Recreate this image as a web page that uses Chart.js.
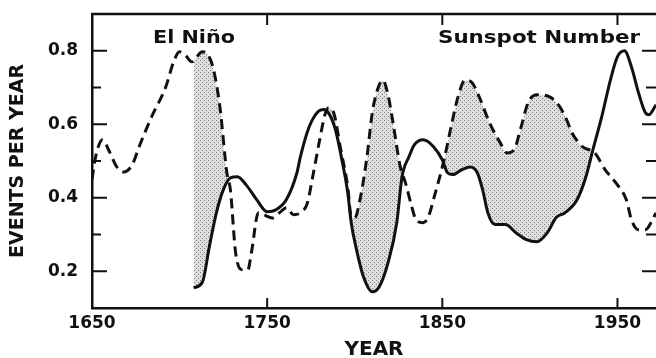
<!DOCTYPE html>
<html>
<head>
<meta charset="utf-8">
<script src="https://cdn.jsdelivr.net/npm/chart.js@4"></script>
<style>
  html, body { margin: 0; padding: 0; background: #fff; overflow: hidden; }
  #wrap { width: 656px; height: 358px; position: relative; }
</style>
</head>
<body>
<div id="wrap"><canvas id="ensoChart"></canvas></div>
<script>
// El Niño events per year (dashed curve)
const ninoYears = [1650, 1652, 1656, 1660, 1664, 1668, 1673, 1677, 1684, 1692, 1697, 1700, 1703, 1707, 1710, 1713, 1716, 1719, 1723, 1727, 1729, 1732, 1736, 1739, 1741, 1745, 1748, 1753, 1757, 1761, 1765, 1769, 1773, 1776, 1780, 1783, 1785, 1788, 1792, 1796, 1798, 1800, 1803, 1807, 1810, 1813, 1816, 1819, 1822, 1826, 1829, 1832, 1835, 1839, 1842, 1846, 1851, 1855, 1859, 1863, 1867, 1871, 1877, 1883, 1887, 1891, 1895, 1899, 1904, 1911, 1917, 1921, 1924, 1930, 1937, 1943, 1949, 1955, 1958, 1962, 1966, 1970, 1972];
const ninoEvents = [0.45, 0.51, 0.558, 0.525, 0.485, 0.47, 0.49, 0.54, 0.62, 0.70, 0.775, 0.797, 0.79, 0.77, 0.785, 0.797, 0.79, 0.756, 0.648, 0.468, 0.422, 0.25, 0.204, 0.204, 0.25, 0.359, 0.354, 0.345, 0.359, 0.373, 0.354, 0.359, 0.386, 0.457, 0.558, 0.626, 0.645, 0.631, 0.531, 0.43, 0.348, 0.345, 0.395, 0.512, 0.631, 0.694, 0.72, 0.68, 0.60, 0.484, 0.44, 0.386, 0.34, 0.332, 0.348, 0.413, 0.503, 0.593, 0.675, 0.72, 0.713, 0.675, 0.604, 0.55, 0.522, 0.531, 0.593, 0.659, 0.68, 0.675, 0.648, 0.612, 0.577, 0.539, 0.522, 0.476, 0.441, 0.395, 0.34, 0.313, 0.313, 0.34, 0.359];

// Sunspot number, scaled to the same axis (solid curve)
const sunYears = [1708, 1713, 1717, 1721, 1725, 1729, 1733, 1738, 1744, 1750, 1755, 1761, 1767, 1769, 1774, 1779, 1782, 1785, 1789, 1793, 1796, 1798, 1801, 1805, 1810, 1814, 1819, 1824, 1827, 1831, 1834, 1839, 1845, 1850, 1853, 1856, 1861, 1866, 1870, 1873, 1876, 1880, 1886, 1892, 1898, 1904, 1910, 1915, 1920, 1927, 1932, 1936, 1941, 1946, 1950, 1954, 1958, 1962, 1966, 1968, 1972];
const sunValues = [0.155, 0.17, 0.267, 0.359, 0.422, 0.454, 0.457, 0.435, 0.395, 0.362, 0.367, 0.395, 0.468, 0.512, 0.593, 0.634, 0.64, 0.631, 0.585, 0.495, 0.414, 0.332, 0.259, 0.185, 0.144, 0.158, 0.223, 0.332, 0.457, 0.512, 0.544, 0.558, 0.539, 0.503, 0.468, 0.463, 0.476, 0.484, 0.468, 0.422, 0.359, 0.327, 0.327, 0.305, 0.286, 0.28, 0.305, 0.346, 0.359, 0.395, 0.457, 0.531, 0.62, 0.721, 0.784, 0.80, 0.756, 0.686, 0.631, 0.626, 0.653];

// axis ticks
const yearTicks = [1650, 1750, 1850, 1950];
const eventTicks = [0.2, 0.3, 0.4, 0.5, 0.6, 0.7, 0.8];
const eventLabels = [0.2, 0.4, 0.6, 0.8];

const ink = '#111';
Chart.defaults.font.family = '"DejaVu Sans", sans-serif';
Chart.defaults.color = ink;

// stippled grey used between the curves
function makeStipple() {
    const c = document.createElement('canvas');
    c.width = 4;
    c.height = 4;
    const g = c.getContext('2d');
    g.fillStyle = '#dedede';
    g.fillRect(0, 0, 4, 4);
    g.fillStyle = '#808080';
    g.fillRect(0, 0, 1, 1);
    g.fillRect(2, 2, 1, 1);
    return g.createPattern(c, 'repeat');
}

const toPoints = (xs, ys) => xs.map((x, i) => ({x: x, y: ys[i]}));

// frame, inward ticks and the two curve names
const framePlugin = {
    id: 'frame',
    afterDraw(chart) {
        const {ctx, chartArea: a, scales: {x, y}} = chart;
        ctx.save();
        ctx.strokeStyle = ink;
        ctx.lineWidth = 2.5;
        ctx.beginPath();
        ctx.moveTo(a.left - 1, a.top);
        ctx.lineTo(a.right, a.top);
        ctx.stroke();

        ctx.lineWidth = 2;
        ctx.beginPath();
        eventTicks.forEach(v => {
            const py = y.getPixelForValue(v);
            const major = eventLabels.includes(v);
            ctx.moveTo(a.left, py);
            ctx.lineTo(a.left + (major ? 15 : 9), py);
            ctx.moveTo(a.right - (major ? 14 : 10), py);
            ctx.lineTo(a.right, py);
        });
        yearTicks.forEach(v => {
            const px = x.getPixelForValue(v);
            ctx.moveTo(px, a.top);
            ctx.lineTo(px, a.top + 11);
            ctx.moveTo(px, a.bottom);
            ctx.lineTo(px, a.bottom - 10);
        });
        ctx.stroke();

        ctx.fillStyle = ink;
        ctx.textBaseline = 'alphabetic';
        const label = (text, left, width, base) => {
            ctx.save();
            ctx.font = 'bold 17px "DejaVu Sans"';
            const w = ctx.measureText(text).width;
            ctx.translate(left, base);
            ctx.scale(width / w, 1);
            ctx.fillText(text, 0, 0);
            ctx.restore();
        };
        label('El Niño', 153, 82, 43);
        label('Sunspot Number', 438, 202, 43);
        ctx.restore();
    }
};

new Chart(document.getElementById('ensoChart'), {
    type: 'line',
    data: {
        datasets: [{
            label: 'El Niño',
            data: toPoints(ninoYears, ninoEvents),
            borderColor: ink,
            borderWidth: 3,
            borderDash: [10, 6],
            pointRadius: 0,
            fill: false,
            cubicInterpolationMode: 'monotone'
        }, {
            label: 'Sunspot Number',
            data: toPoints(sunYears, sunValues),
            borderColor: ink,
            borderWidth: 3,
            pointRadius: 0,
            fill: {target: 0, above: 'rgba(0,0,0,0)', below: makeStipple()},
            cubicInterpolationMode: 'monotone'
        }]
    },
    options: {
        responsive: true,
        maintainAspectRatio: false,
        animation: false,
        layout: {padding: {top: 14, right: 0, left: 0, bottom: 0}},
        plugins: {
            legend: {display: false},
            tooltip: {enabled: false}
        },
        scales: {
            x: {
                type: 'linear',
                min: 1650,
                max: 1972,
                afterBuildTicks: scale => {
                    scale.ticks = yearTicks.map(v => ({value: v}));
                },
                afterFit: scale => {
                    scale.height = 50;
                    scale.paddingLeft = 0;
                    scale.paddingRight = 0;
                },
                grid: {display: false, drawTicks: false},
                border: {display: true, color: ink, width: 2.5},
                ticks: {
                    padding: 5,
                    font: {size: 17, weight: 'bold'},
                    callback: v => String(v)
                },
                title: {
                    display: true,
                    text: 'YEAR',
                    font: {size: 20, weight: 'bold', lineHeight: 1},
                    padding: {top: 0, bottom: -2}
                }
            },
            y: {
                min: 0.1,
                max: 0.9,
                afterBuildTicks: scale => {
                    scale.ticks = eventLabels.map(v => ({value: v}));
                },
                afterFit: scale => {
                    scale.width = 92;
                    scale.paddingTop = 0;
                    scale.paddingBottom = 0;
                },
                grid: {display: false, drawTicks: false},
                border: {display: true, color: ink, width: 2.5},
                ticks: {
                    padding: 14,
                    font: {size: 17, weight: 'bold'},
                    callback: v => v.toFixed(1)
                },
                title: {
                    display: true,
                    text: 'EVENTS PER YEAR',
                    font: {size: 19, weight: 'bold', lineHeight: 1},
                    padding: {top: 9, bottom: 0}
                }
            }
        }
    },
    plugins: [framePlugin]
});
</script>
</body>
</html>
